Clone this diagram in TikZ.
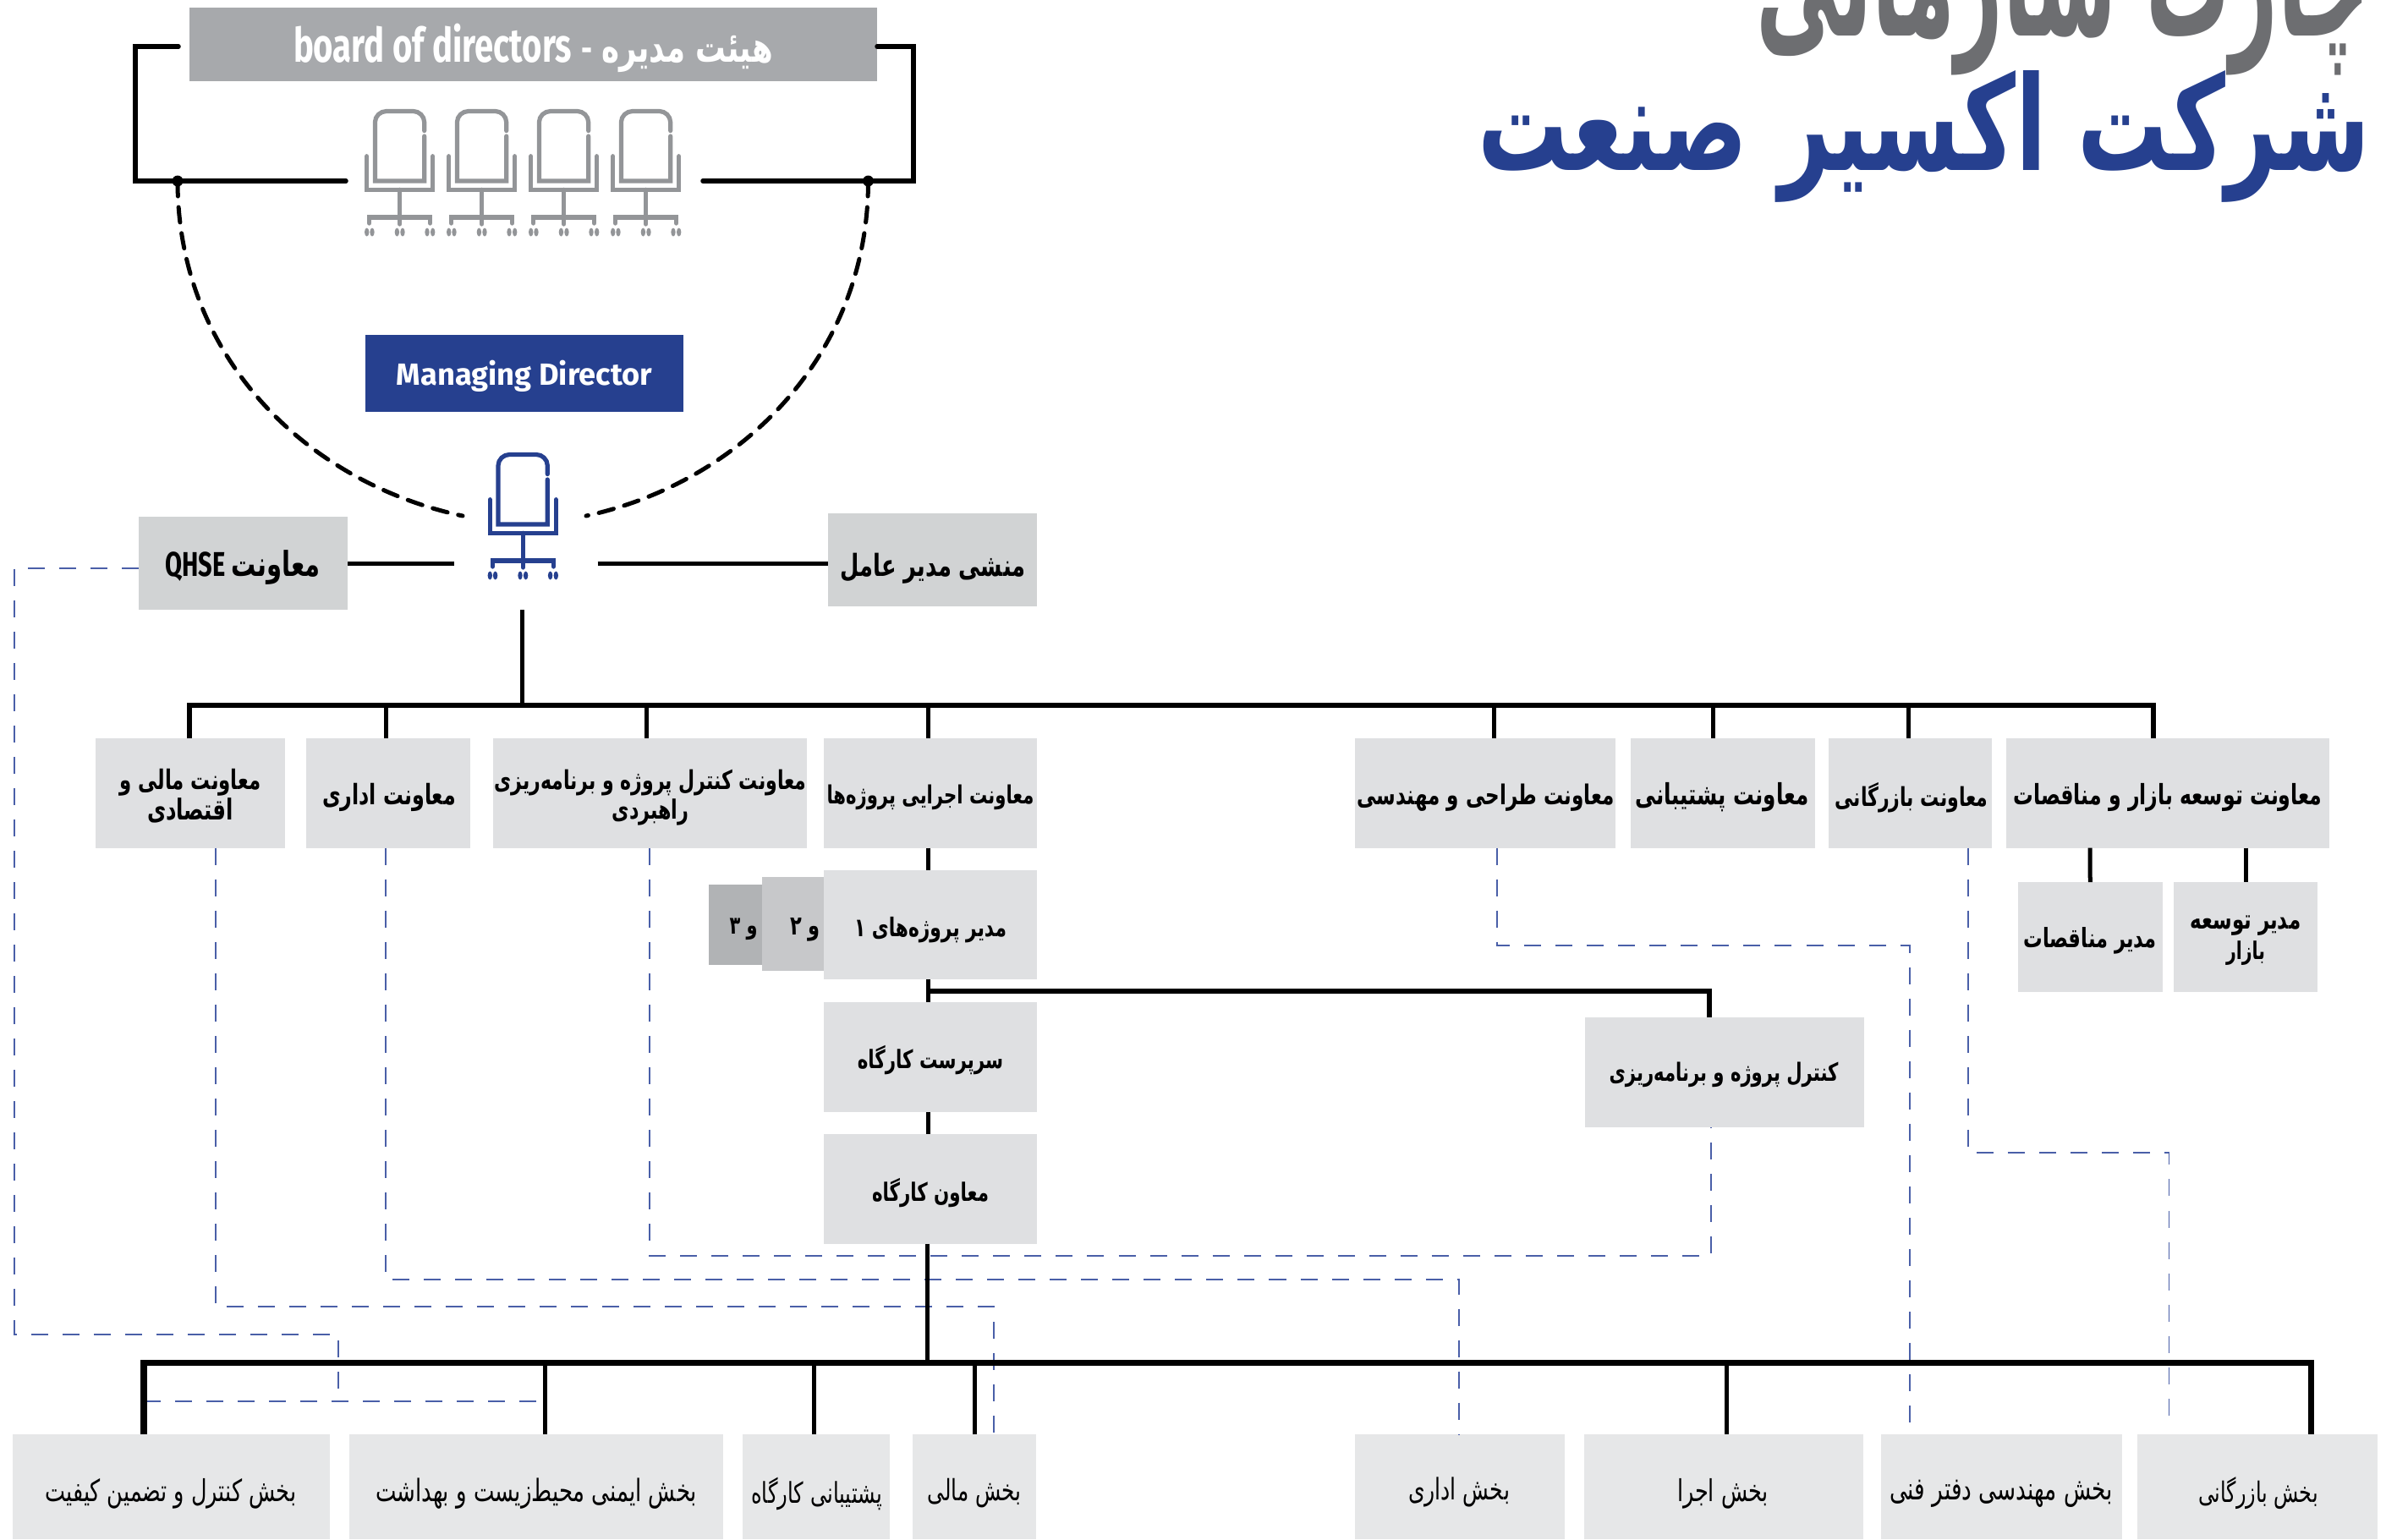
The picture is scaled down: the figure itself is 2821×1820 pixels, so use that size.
\documentclass[tikz,border=0pt]{standalone}
\usepackage{graphicx}
\usepackage{fontspec}
\TeXXeTstate=1
\setmainfont{DejaVu Sans}
\newfontfamily\arabicfont[Script=Arabic]{DejaVu Sans}
\newfontfamily\latfont{Fira Sans}
\definecolor{boardc}{HTML}{A7A9AC}
\definecolor{navy}{HTML}{26408F}
\definecolor{qbox}{HTML}{D1D3D4}
\definecolor{vpbox}{HTML}{DFE0E2}
\definecolor{botbox}{HTML}{E6E7E8}
\definecolor{twobox}{HTML}{C7C8CA}
\definecolor{threebox}{HTML}{B1B3B5}
\definecolor{titlegray}{HTML}{6D6E71}
\definecolor{chairgray}{HTML}{939598}
\definecolor{dashblue}{HTML}{4A5FA8}
\newdimen\pxu \pxu=0.01cm
\newcommand{\ar}{\arabicfont\bfseries}
\newcommand{\arl}{\arabicfont}
\newcommand{\fit}[2]{\resizebox{#1\pxu}{!}{\scalebox{1}[1.4]{#2}}}
\newcommand{\bx}[6]{\node[boxbase,#2,minimum width={(#5-#3)*0.01cm},minimum height={(#6-#4)*0.01cm}] (#1) at ({(#3+#5)/2},{(#4+#6)/2}) {};}
\newcommand{\chair}[4]{%
 \begin{scope}[shift={(#2,#3)}]
  \draw[chairline,draw=#4] (29,25.6) -- (29,15.5) .. controls (29,8.3) and (22.7,2.5) .. (16,2.5) -- (-16,2.5) .. controls (-23,2.5) and (-29.3,8.3) .. (-29.3,15.5) -- (-29.3,85) -- (29,85) -- (29,32);
  \draw[chairline,draw=#4] (-39,55.7) -- (-39,95.3) -- (39,95.3) -- (39,55.7);
  \draw[chairline,draw=#4] (0,95.3) -- (0,136);
  \draw[chairline,draw=#4] (-36,135) -- (-36,128) -- (36,128) -- (36,135);
  \foreach \wx in {-39,-32.7,-3.3,3.3,32.3,39}
   \fill[#4] (\wx,145.5) ellipse[x radius=0.027cm,y radius=0.05cm];
 \end{scope}}
\tikzset{
 x=0.01cm,y=-0.01cm,
 boxbase/.style={inner sep=0pt,outer sep=0pt,draw=none},
 boardbox/.style={fill=boardc},
 mdbox/.style={fill=navy},
 graybox/.style={fill=qbox},
 vp/.style={fill=vpbox},
 bot/.style={fill=botbox},
 pm2/.style={fill=twobox},
 pm3/.style={fill=threebox},
 lbl/.style={inner sep=0pt,outer sep=0pt,align=center,font=\fontsize{10}{10.1}\selectfont},
 conn/.style={draw=black,line width=0.05cm},
 busline/.style={draw=black,line width=0.06cm},
 bigbus/.style={draw=black,line width=0.07cm},
 roundconn/.style={draw=black,line width=0.055cm,line cap=round,line join=miter},
 arcdash/.style={draw=black,line width=0.05cm,line cap=round,dash pattern=on 0.18cm off 0.13cm},
 blue dash/.style={draw=dashblue,line width=0.018cm,dash pattern=on 0.2cm off 0.17cm},
 chairline/.style={line width=0.052cm,line cap=round,line join=miter}
}
\begin{document}
\begin{tikzpicture}
\path[use as bounding box] (0,0) rectangle (2821,1820);
% title
\node[anchor=base east,inner sep=0pt,text=titlegray] (title1) at (2803,42) {\resizebox{726\pxu}{145\pxu}{\ar\beginR چارت سازمانی\endR}};
\node[anchor=base east,inner sep=0pt,text=navy] (title2) at (2803,201) {\resizebox{1055\pxu}{118\pxu}{\ar\beginR شرکت اکسیر صنعت\endR}};
% boxes
\bx{board}{boardbox}{224}{9}{1037}{95.5}
\bx{md}{mdbox}{432}{396}{808}{487}
\bx{qhse}{graybox}{164}{611}{411}{721}
\bx{sec}{graybox}{979}{607}{1226}{717}
\bx{mali}{vp}{113}{873}{337}{1002.6}
\bx{edari}{vp}{362}{873}{556}{1002.6}
\bx{cp}{vp}{583}{873}{954}{1002.6}
\bx{ejr}{vp}{973.5}{873}{1225.5}{1002.6}
\bx{tar}{vp}{1602}{873}{1909.5}{1002.6}
\bx{pos}{vp}{1928}{873}{2146}{1002.6}
\bx{baz}{vp}{2162}{873}{2355}{1002.6}
\bx{tos}{vp}{2372}{873}{2754}{1002.6}
\bx{mon}{vp}{2386}{1043}{2556.5}{1173}
\bx{mto}{vp}{2570}{1043}{2740}{1173}
\bx{pm}{vp}{973.5}{1029}{1225.5}{1158}
\bx{pm2b}{pm2}{901}{1037}{973.5}{1148}
\bx{pm3b}{pm3}{837.5}{1046}{901}{1140.5}
\bx{sar}{vp}{973.5}{1185}{1225.5}{1315}
\bx{moa}{vp}{973.5}{1341}{1225.5}{1470.5}
\bx{kon}{vp}{1874}{1203}{2203.5}{1332.5}
\bx{b1}{bot}{15}{1696}{390}{1820}
\bx{b2}{bot}{413}{1696}{854.5}{1820}
\bx{b3}{bot}{878}{1696}{1052}{1820}
\bx{b4}{bot}{1079}{1696}{1225}{1820}
\bx{b5}{bot}{1602}{1696}{1849.5}{1820}
\bx{b6}{bot}{1873}{1696}{2203}{1820}
\bx{b7}{bot}{2224}{1696}{2509}{1820}
\bx{b8}{bot}{2527}{1696}{2811}{1820}
% labels
\node[lbl,text=white] (tboard) at (630.5,57) {\fit{329}{\latfont\bfseries board of directors}\kern11\pxu\fit{13}{\latfont\bfseries -}\kern11\pxu\fit{203}{\ar\beginR هیئت مدیره\endR}};
\node[lbl,text=white] (tmd) at (620,445) {\resizebox{302\pxu}{!}{\latfont\bfseries Managing Director}};
\node[lbl] (tq) at (287,671) {\fit{183}{\latfont\bfseries QHSE \ar\beginR معاونت\endR}};
\node[lbl] (tsec) at (1103,672) {\fit{219}{\ar\beginR منشی مدیر عامل\endR}};
\node[lbl] (tmali) at (225,941) {\fit{167}{\ar\beginR معاونت مالی و\endR}\\\fit{102}{\ar\beginR اقتصادی\endR}};
\node[lbl] (tedari) at (460,943) {\fit{158}{\ar\beginR معاونت اداری\endR}};
\node[lbl] (tcp) at (769,943) {\fit{369}{\ar\beginR معاونت کنترل پروژه و برنامه‌ریزی\endR}\\\fit{91}{\ar\beginR راهبردی\endR}};
\node[lbl] (tejr) at (1100,943) {\fit{245}{\ar\beginR معاونت اجرایی پروژه‌ها\endR}};
\node[lbl] (ttar) at (1756.5,943) {\fit{304}{\ar\beginR معاونت طراحی و مهندسی\endR}};
\node[lbl] (tpos) at (2036,943) {\fit{205}{\ar\beginR معاونت پشتیبانی\endR}};
\node[lbl] (tbaz) at (2260,943) {\fit{181}{\ar\beginR معاونت بازرگانی\endR}};
\node[lbl] (ttos) at (2563,943) {\fit{365}{\ar\beginR معاونت توسعه بازار و مناقصات\endR}};
\node[lbl] (tmon) at (2471,1112) {\fit{157}{\ar\beginR مدیر مناقصات\endR}};
\node[lbl] (tmto) at (2655,1112) {\fit{131}{\ar\beginR مدیر توسعه\endR}\\\fit{46}{\ar\beginR بازار\endR}};
\node[lbl] (tkon) at (2038,1270.5) {\fit{271}{\ar\beginR کنترل پروژه و برنامه‌ریزی\endR}};
\node[lbl] (tpm) at (1100,1100) {\fit{180}{\ar\beginR مدیر پروژه‌های ۱\endR}};
\node[lbl] (tpm2) at (952,1099) {\fit{35.6}{\ar\beginR و ۲\endR}};
\node[lbl] (tpm3) at (879,1099) {\fit{33}{\ar\beginR و ۳\endR}};
\node[lbl] (tsar) at (1100,1254) {\fit{172.5}{\ar\beginR سرپرست کارگاه\endR}};
\node[lbl] (tmoa) at (1100,1411) {\fit{138}{\ar\beginR معاون کارگاه\endR}};
\node[lbl] (tb1) at (202,1766) {\fit{297}{\arl\beginR بخش کنترل و تضمین کیفیت\endR}};
\node[lbl] (tb2) at (634,1766) {\fit{380}{\arl\beginR بخش ایمنی محیط‌زیست و بهداشت\endR}};
\node[lbl] (tb3) at (965.5,1766) {\fit{154.5}{\arl\beginR پشتیبانی کارگاه\endR}};
\node[lbl] (tb4) at (1152,1766) {\fit{111}{\arl\beginR بخش مالی\endR}};
\node[lbl] (tb5) at (1725,1764) {\fit{120}{\arl\beginR بخش اداری\endR}};
\node[lbl] (tb6) at (2037,1766) {\fit{108}{\arl\beginR بخش اجرا\endR}};
\node[lbl] (tb7) at (2366,1766) {\fit{264}{\arl\beginR بخش مهندسی دفتر فنی\endR}};
\node[lbl] (tb8) at (2670,1766) {\fit{142}{\arl\beginR بخش بازرگانی\endR}};
% chairs
\chair{c1}{472.7}{129}{chairgray}
\chair{c2}{569.7}{129}{chairgray}
\chair{c3}{666.7}{129}{chairgray}
\chair{c4}{763.7}{129}{chairgray}
\chair{c5}{618.3}{535}{navy}
% named points
\coordinate (dotL) at (210,214);
\coordinate (dotR) at (1026.5,214);
\coordinate (arcL) at (547,610);
\coordinate (arcR) at (693,610);
\coordinate (chairL) at (536.5,666.5);
\coordinate (chairR) at (706.5,666.5);
\coordinate (busT) at (617.7,834);
\coordinate (busB) at (1096.5,1611);
% blue dashed connectors
\draw[blue dash] (qhse.west |- 0,672) -- (16.6,672) -- (16.6,1578) -- (400,1578) -- (400,1656.7);
\draw[blue dash] (170,1656.7) -- (639,1656.7);
\draw[blue dash] (254.6,0 |- mali.south) -- (254.6,1545) -- (1175,1545) -- (1175,0 |- b4.north);
\draw[blue dash] (456,0 |- edari.south) -- (456,1513) -- (1725,1513) -- (1725,0 |- b5.north);
\draw[blue dash] (768,0 |- cp.south) -- (768,1484.7) -- (2023,1484.7) -- (2023,0 |- kon.south);
\draw[blue dash] (1769.6,0 |- tar.south) -- (1769.6,1118) -- (2258,1118) -- (2258,0 |- b7.north);
\draw[blue dash] (2327,0 |- baz.south) -- (2327,1363) -- (2564.5,1363) -- (2564.5,1680);
% board frame and arc
\draw[roundconn] (211,55) -- (160,55) -- (160,214) -- (409,214);
\draw[roundconn] (board.east |- 0,55) -- (1080,55) -- (1080,214) -- (831,214);
\fill (dotL) circle[radius=0.065cm];
\fill (dotR) circle[radius=0.065cm];
\draw[arcdash] (dotL) .. controls (210,420) and (360,570) .. (arcL);
\draw[arcdash] (dotR) .. controls (1026.5,420) and (876.5,570) .. (arcR);
% solid connectors
\draw[conn] (qhse.east |- chairL) -- (chairL);
\draw[conn] (chairR) -- (sec.west |- chairR);
\draw[conn] (617.7,721) -- (busT);
\draw[busline] (224,0 |- mali.north) -- (224,834) -- (2545.5,834) -- (2545.5,0 |- tos.north);
\draw[conn] (456,0 |- busT) -- (456,0 |- edari.north);
\draw[conn] (764.5,0 |- busT) -- (764.5,0 |- cp.north);
\draw[conn] (1097,0 |- busT) -- (1097,0 |- ejr.north);
\draw[conn] (1766,0 |- busT) -- (1766,0 |- tar.north);
\draw[conn] (2025,0 |- busT) -- (2025,0 |- pos.north);
\draw[conn] (2256,0 |- busT) -- (2256,0 |- baz.north);
\draw[conn] (2471,0 |- tos.south) -- (mon.north);
\draw[conn] (2655,0 |- tos.south) -- (mto.north);
\draw[conn] (1097,0 |- ejr.south) -- (1097,0 |- pm.north);
\draw[conn] (1097,0 |- pm.south) -- (1097,0 |- sar.north);
\draw[conn] (1097,0 |- sar.south) -- (1097,0 |- moa.north);
\draw[busline] (1097,1172) -- (2020.6,1172) -- (2020.6,0 |- kon.north);
\draw[conn] (1096.5,0 |- moa.south) -- (busB);
\draw[bigbus] (170,1696) -- (170,1611) -- (2732,1611) -- (2732,1696);
\draw[conn] (644,0 |- busB) -- (644,0 |- b2.north);
\draw[conn] (962.5,0 |- busB) -- (962.5,0 |- b3.north);
\draw[conn] (1152,0 |- busB) -- (1152,0 |- b4.north);
\draw[conn] (2041.6,0 |- busB) -- (2041.6,0 |- b6.north);
\end{tikzpicture}
\end{document}
